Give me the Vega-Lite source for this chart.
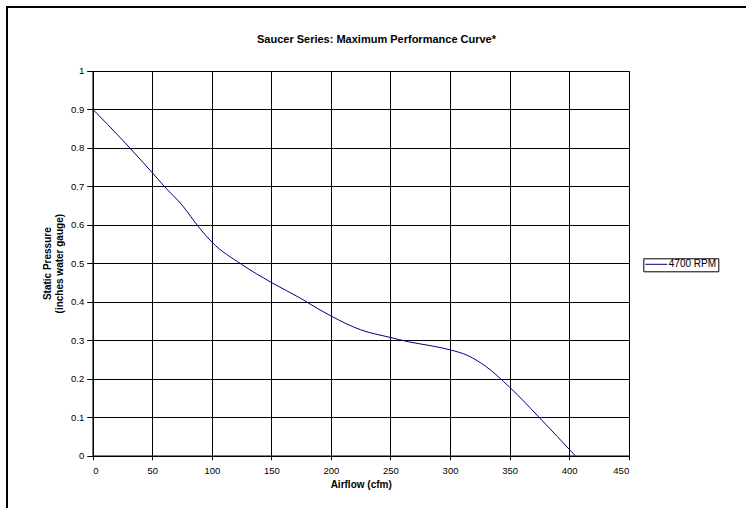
{
  "$schema": "https://vega.github.io/schema/vega-lite/v6.json",
  "width": 739,
  "height": 501,
  "autosize": {"type": "none"},
  "padding": {"left": 7, "top": 7, "right": 0, "bottom": 0},
  "background": "white",
  "title": {
    "text": "Saucer Series: Maximum Performance Curve*",
    "frame": "group",
    "anchor": "middle",
    "offset": -44,
    "baseline": "middle",
    "font": "Liberation Sans",
    "fontSize": 11,
    "fontWeight": "bold",
    "color": "black"
  },
  "data": {
    "values": [
      {"airflow": 0, "pressure": 0.9, "series": "4700 RPM"},
      {"airflow": 25, "pressure": 0.82, "series": "4700 RPM"},
      {"airflow": 50, "pressure": 0.735, "series": "4700 RPM"},
      {"airflow": 60, "pressure": 0.7, "series": "4700 RPM"},
      {"airflow": 75, "pressure": 0.651, "series": "4700 RPM"},
      {"airflow": 90, "pressure": 0.59, "series": "4700 RPM"},
      {"airflow": 100, "pressure": 0.555, "series": "4700 RPM"},
      {"airflow": 125, "pressure": 0.497, "series": "4700 RPM"},
      {"airflow": 150, "pressure": 0.45, "series": "4700 RPM"},
      {"airflow": 175, "pressure": 0.408, "series": "4700 RPM"},
      {"airflow": 190, "pressure": 0.38, "series": "4700 RPM"},
      {"airflow": 200, "pressure": 0.363, "series": "4700 RPM"},
      {"airflow": 225, "pressure": 0.327, "series": "4700 RPM"},
      {"airflow": 250, "pressure": 0.307, "series": "4700 RPM"},
      {"airflow": 265, "pressure": 0.296, "series": "4700 RPM"},
      {"airflow": 285, "pressure": 0.285, "series": "4700 RPM"},
      {"airflow": 300, "pressure": 0.275, "series": "4700 RPM"},
      {"airflow": 315, "pressure": 0.26, "series": "4700 RPM"},
      {"airflow": 330, "pressure": 0.232, "series": "4700 RPM"},
      {"airflow": 350, "pressure": 0.178, "series": "4700 RPM"},
      {"airflow": 375, "pressure": 0.099, "series": "4700 RPM"},
      {"airflow": 390, "pressure": 0.05, "series": "4700 RPM"},
      {"airflow": 405, "pressure": 0, "series": "4700 RPM"}
    ]
  },
  "layer": [
    {
      "mark": {"type": "line", "strokeOpacity": 0},
      "encoding": {
        "x": {
          "field": "airflow",
          "type": "quantitative",
          "scale": {"domain": [0, 450], "range": [85.7, 621.7], "nice": false},
          "axis": {
            "orient": "top",
            "values": [0, 50, 100, 150, 200, 250, 300, 350, 400, 450],
            "grid": true,
            "labels": false,
            "ticks": false,
            "domain": false,
            "title": null
          }
        },
        "y": {"field": "pressure", "type": "quantitative"}
      }
    },
    {
      "mark": {"type": "line", "interpolate": "monotone", "strokeWidth": 1, "clip": false},
      "encoding": {
        "x": {
          "field": "airflow",
          "type": "quantitative",
          "axis": {
            "orient": "bottom",
            "title": "Airflow (cfm)",
            "values": [0, 50, 100, 150, 200, 250, 300, 350, 400, 450],
            "grid": false,
            "offset": -52.3,
            "tickSize": 4,
            "labelPadding": 6,
            "titleY": 29,
            "titleBaseline": "middle"
          }
        },
        "y": {
          "field": "pressure",
          "type": "quantitative",
          "scale": {"domain": [0, 1], "range": [448.7, 63.7], "nice": false},
          "axis": {
            "title": ["Static Pressure", "(inches water gauge)"],
            "values": [0, 0.1, 0.2, 0.3, 0.4, 0.5, 0.6, 0.7, 0.8, 0.9, 1],
            "format": "~g",
            "grid": true,
            "offset": -85.7,
            "tickSize": 6,
            "labelPadding": 3,
            "titleX": -45,
            "titleY": 256.2,
            "titleAngle": -90,
            "titleAlign": "center",
            "titleBaseline": "middle",
            "titleLineHeight": 11.6
          }
        },
        "color": {
          "field": "series",
          "type": "nominal",
          "scale": {"range": ["#000080"]},
          "legend": {
            "title": null,
            "orient": "none",
            "legendX": 636.3,
            "legendY": 251.3,
            "strokeColor": "black",
            "fillColor": "white",
            "padding": 1.5,
            "symbolType": "stroke",
            "symbolSize": 484,
            "symbolStrokeWidth": 1,
            "clipHeight": 9,
            "labelFont": "Liberation Sans",
            "labelFontSize": 10,
            "labelColor": "black",
            "labelOffset": 1
          }
        }
      }
    }
  ],
  "resolve": {"axis": {"x": "independent"}},
  "config": {
    "view": {"stroke": "black", "strokeWidth": 2, "strokeDash": [739, 1240, 501]},
    "axis": {
      "gridColor": "black",
      "gridOpacity": 1,
      "gridWidth": 1,
      "domainColor": "black",
      "domainWidth": 1.5,
      "tickColor": "black",
      "tickWidth": 1,
      "labelFont": "Liberation Sans",
      "labelFontSize": 9.5,
      "labelColor": "black",
      "titleFont": "Liberation Sans",
      "titleFontSize": 10,
      "titleFontWeight": "bold",
      "titleColor": "black"
    }
  }
}
